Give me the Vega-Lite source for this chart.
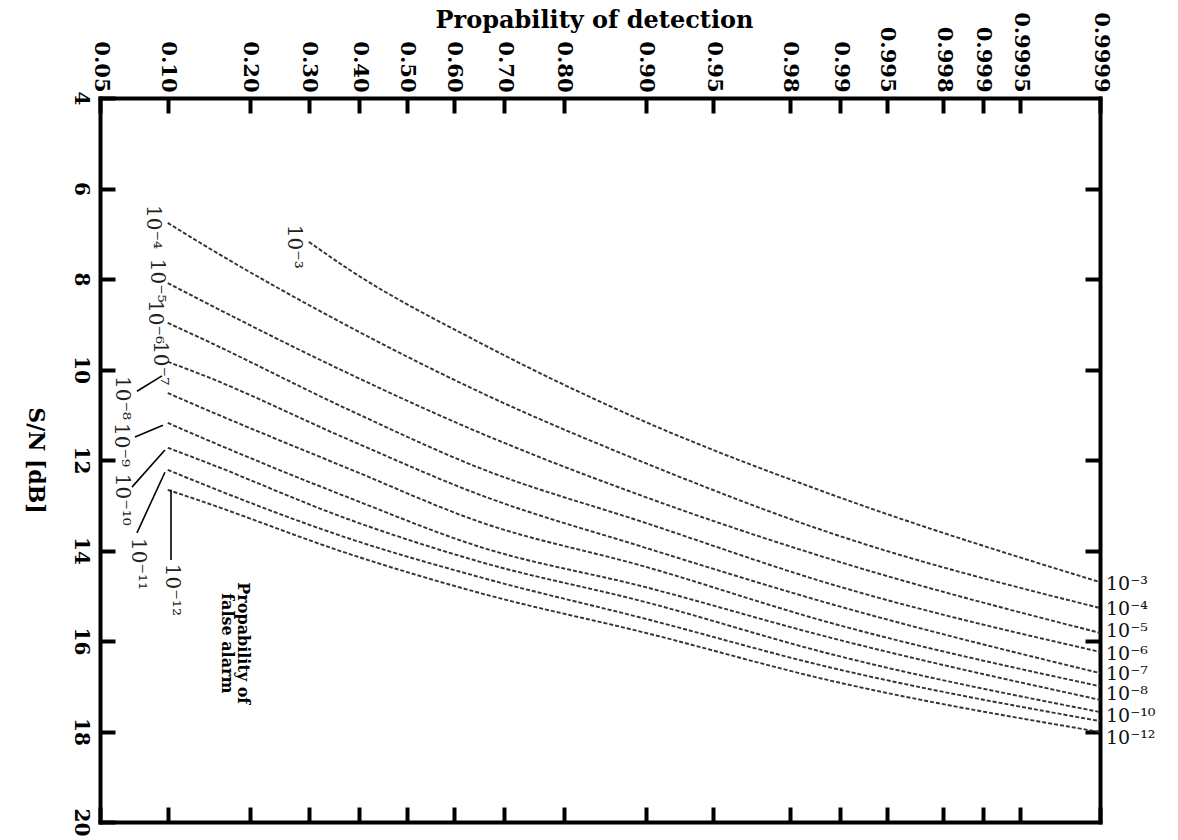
{
  "$schema": "https://vega.github.io/schema/vega-lite/v6.json",
  "width": 1000,
  "height": 724,
  "autosize": {"type": "none"},
  "padding": {"left": 100, "top": 98, "right": 78, "bottom": 18},
  "background": "white",
  "config": {
    "view": {"stroke": null},
    "axis": {
      "domainColor": "black", "domainWidth": 4, "domainCap": "square",
      "tickColor": "black", "tickWidth": 4, "tickSize": -15, "tickCap": "butt",
      "grid": false,
      "labelColor": "black", "labelFont": "DejaVu Serif", "labelFontWeight": "bold", "labelFontSize": 21,
      "labelOverlap": false, "labelFlush": false, "labelBound": false,
      "titleColor": "black", "titleFont": "DejaVu Serif", "titleFontWeight": "bold", "titleFontSize": 24
    }
  },
  "layer": [
    {
      "data": {"values": [
        {"pfa": "1e-3", "pd": 0.30, "snr": 7.18},
        {"pfa": "1e-3", "pd": 0.38, "snr": 7.80},
        {"pfa": "1e-3", "pd": 0.653, "snr": 9.41},
        {"pfa": "1e-3", "pd": 0.90, "snr": 11.16},
        {"pfa": "1e-3", "pd": 0.988, "snr": 12.73},
        {"pfa": "1e-3", "pd": 0.9999, "snr": 14.70},
        {"pfa": "1e-4", "pd": 0.10, "snr": 6.76},
        {"pfa": "1e-4", "pd": 0.134, "snr": 7.20},
        {"pfa": "1e-4", "pd": 0.38, "snr": 9.06},
        {"pfa": "1e-4", "pd": 0.653, "snr": 10.50},
        {"pfa": "1e-4", "pd": 0.90, "snr": 12.07},
        {"pfa": "1e-4", "pd": 0.988, "snr": 13.59},
        {"pfa": "1e-4", "pd": 0.9999, "snr": 15.27},
        {"pfa": "1e-5", "pd": 0.10, "snr": 8.09},
        {"pfa": "1e-5", "pd": 0.134, "snr": 8.46},
        {"pfa": "1e-5", "pd": 0.38, "snr": 10.10},
        {"pfa": "1e-5", "pd": 0.653, "snr": 11.40},
        {"pfa": "1e-5", "pd": 0.90, "snr": 12.82},
        {"pfa": "1e-5", "pd": 0.988, "snr": 14.17},
        {"pfa": "1e-5", "pd": 0.9999, "snr": 15.82},
        {"pfa": "1e-6", "pd": 0.10, "snr": 8.97},
        {"pfa": "1e-6", "pd": 0.134, "snr": 9.30},
        {"pfa": "1e-6", "pd": 0.38, "snr": 10.90},
        {"pfa": "1e-6", "pd": 0.653, "snr": 12.18},
        {"pfa": "1e-6", "pd": 0.90, "snr": 13.39},
        {"pfa": "1e-6", "pd": 0.988, "snr": 14.72},
        {"pfa": "1e-6", "pd": 0.9999, "snr": 16.24},
        {"pfa": "1e-7", "pd": 0.10, "snr": 9.83},
        {"pfa": "1e-7", "pd": 0.134, "snr": 10.10},
        {"pfa": "1e-7", "pd": 0.38, "snr": 11.56},
        {"pfa": "1e-7", "pd": 0.653, "snr": 12.77},
        {"pfa": "1e-7", "pd": 0.90, "snr": 13.94},
        {"pfa": "1e-7", "pd": 0.988, "snr": 15.16},
        {"pfa": "1e-7", "pd": 0.9999, "snr": 16.71},
        {"pfa": "1e-8", "pd": 0.10, "snr": 10.52},
        {"pfa": "1e-8", "pd": 0.134, "snr": 10.83},
        {"pfa": "1e-8", "pd": 0.38, "snr": 12.20},
        {"pfa": "1e-8", "pd": 0.653, "snr": 13.37},
        {"pfa": "1e-8", "pd": 0.90, "snr": 14.36},
        {"pfa": "1e-8", "pd": 0.988, "snr": 15.58},
        {"pfa": "1e-8", "pd": 0.9999, "snr": 17.00},
        {"pfa": "1e-9", "pd": 0.10, "snr": 11.18},
        {"pfa": "1e-9", "pd": 0.134, "snr": 11.49},
        {"pfa": "1e-9", "pd": 0.38, "snr": 12.84},
        {"pfa": "1e-9", "pd": 0.653, "snr": 13.92},
        {"pfa": "1e-9", "pd": 0.90, "snr": 14.81},
        {"pfa": "1e-9", "pd": 0.988, "snr": 15.91},
        {"pfa": "1e-9", "pd": 0.9999, "snr": 17.30},
        {"pfa": "1e-10", "pd": 0.10, "snr": 11.73},
        {"pfa": "1e-10", "pd": 0.134, "snr": 12.00},
        {"pfa": "1e-10", "pd": 0.38, "snr": 13.32},
        {"pfa": "1e-10", "pd": 0.653, "snr": 14.25},
        {"pfa": "1e-10", "pd": 0.90, "snr": 15.14},
        {"pfa": "1e-10", "pd": 0.988, "snr": 16.27},
        {"pfa": "1e-10", "pd": 0.9999, "snr": 17.57},
        {"pfa": "1e-11", "pd": 0.10, "snr": 12.22},
        {"pfa": "1e-11", "pd": 0.134, "snr": 12.51},
        {"pfa": "1e-11", "pd": 0.38, "snr": 13.74},
        {"pfa": "1e-11", "pd": 0.653, "snr": 14.59},
        {"pfa": "1e-11", "pd": 0.90, "snr": 15.51},
        {"pfa": "1e-11", "pd": 0.988, "snr": 16.57},
        {"pfa": "1e-11", "pd": 0.9999, "snr": 17.77},
        {"pfa": "1e-12", "pd": 0.10, "snr": 12.66},
        {"pfa": "1e-12", "pd": 0.134, "snr": 12.90},
        {"pfa": "1e-12", "pd": 0.38, "snr": 14.08},
        {"pfa": "1e-12", "pd": 0.653, "snr": 14.94},
        {"pfa": "1e-12", "pd": 0.90, "snr": 15.82},
        {"pfa": "1e-12", "pd": 0.988, "snr": 16.86},
        {"pfa": "1e-12", "pd": 0.9999, "snr": 18.01}
      ]},
      "transform": [{"calculate": "quantileNormal(datum.pd)", "as": "z"}],
      "mark": {"type": "line", "interpolate": "monotone", "stroke": "#333333", "strokeWidth": 1.9, "strokeDash": [4, 2]},
      "encoding": {
        "x": {
          "field": "z", "type": "quantitative",
          "scale": {"domain": [-1.644854, 3.719016], "nice": false, "zero": false},
          "axis": {
            "orient": "top",
            "values": [-1.644854, -1.281552, -0.841621, -0.524401, -0.253347, 0, 0.253347, 0.524401, 0.841621, 1.281552, 1.644854, 2.053749, 2.326348, 2.575829, 2.878162, 3.090232, 3.290527, 3.719016],
            "labelExpr": "format(cumulativeNormal(datum.value), cumulativeNormal(datum.value) < 0.9925 ? '.2f' : (cumulativeNormal(datum.value) < 0.99925 ? '.3f' : '.4f'))",
            "labelAngle": 90, "labelAlign": "right", "labelBaseline": "middle", "labelPadding": 21,
            "title": "Propability of detection",
            "titleX": 494, "titleY": -71, "titleAngle": 0, "titleAlign": "center", "titleBaseline": "alphabetic"
          }
        },
        "y": {
          "field": "snr", "type": "quantitative",
          "scale": {"domain": [4, 20], "nice": false, "zero": false, "reverse": true},
          "axis": {
            "orient": "left",
            "values": [4, 6, 8, 10, 12, 14, 16, 18, 20],
            "labelAngle": 90, "labelAlign": "center", "labelBaseline": "top", "labelPadding": 25, "labelFontSize": 20,
            "title": "S/N [dB]",
            "titleFontSize": 22,
            "titleAngle": 90, "titleX": -65, "titleY": 362, "titleAlign": "center", "titleBaseline": "middle"
          }
        },
        "detail": {"field": "pfa", "type": "nominal"}
      }
    },
    {
      "data": {"values": [
        {"pd": 0.0740, "snr": 10.48, "pd2": 0.0947, "snr2": 10.14},
        {"pd": 0.0725, "snr": 11.49, "pd2": 0.0956, "snr2": 11.23},
        {"pd": 0.0703, "snr": 12.60, "pd2": 0.0974, "snr2": 11.78},
        {"pd": 0.0740, "snr": 13.61, "pd2": 0.0974, "snr2": 12.27},
        {"pd": 0.1031, "snr": 14.21, "pd2": 0.1031, "snr2": 12.66}
      ]},
      "transform": [
        {"calculate": "quantileNormal(datum.pd)", "as": "z"},
        {"calculate": "quantileNormal(datum.pd2)", "as": "z2"}
      ],
      "mark": {"type": "rule", "stroke": "black", "strokeWidth": 1.6},
      "encoding": {
        "x": {
          "field": "z", "type": "quantitative",
          "scale": {"domain": [-1.644854, 3.719016], "nice": false, "zero": false},
          "axis": {
            "orient": "bottom",
            "values": [-1.644854, -1.281552, -0.841621, -0.524401, -0.253347, 0, 0.253347, 0.524401, 0.841621, 1.281552, 1.644854, 2.053749, 2.326348, 2.575829, 2.878162, 3.090232, 3.290527, 3.719016],
            "labels": false, "title": null
          }
        },
        "y": {
          "field": "snr", "type": "quantitative",
          "scale": {"domain": [4, 20], "nice": false, "zero": false, "reverse": true},
          "axis": {"orient": "right", "values": [6, 8, 10, 12, 14, 16, 18], "labels": false, "title": null}
        },
        "x2": {"field": "z2"},
        "y2": {"field": "snr2"}
      }
    },
    {
      "data": {"values": [
        {"lab": "10⁻³", "pd": 0.273, "snr": 7.29},
        {"lab": "10⁻⁴", "pd": 0.0868, "snr": 6.85},
        {"lab": "10⁻⁵", "pd": 0.0903, "snr": 8.04},
        {"lab": "10⁻⁶", "pd": 0.0885, "snr": 8.95},
        {"lab": "10⁻⁷", "pd": 0.0929, "snr": 9.86},
        {"lab": "10⁻⁸", "pd": 0.0634, "snr": 10.63},
        {"lab": "10⁻⁹", "pd": 0.0627, "snr": 11.67},
        {"lab": "10⁻¹⁰", "pd": 0.0634, "snr": 12.88},
        {"lab": "10⁻¹¹", "pd": 0.0748, "snr": 14.30},
        {"lab": "10⁻¹²", "pd": 0.104, "snr": 14.87}
      ]},
      "transform": [{"calculate": "quantileNormal(datum.pd)", "as": "z"}],
      "mark": {"type": "text", "angle": 90, "align": "center", "baseline": "middle", "font": "DejaVu Serif", "fontSize": 20, "color": "#222"},
      "encoding": {
        "x": {"field": "z", "type": "quantitative", "scale": {"domain": [-1.644854, 3.719016], "nice": false, "zero": false}, "axis": null},
        "y": {"field": "snr", "type": "quantitative", "scale": {"domain": [4, 20], "nice": false, "zero": false, "reverse": true}, "axis": null},
        "text": {"field": "lab"}
      }
    },
    {
      "data": {"values": [
        {"lab": "10⁻³", "pd": 0.9999, "snr": 14.87},
        {"lab": "10⁻⁴", "pd": 0.9999, "snr": 15.43},
        {"lab": "10⁻⁵", "pd": 0.9999, "snr": 15.91},
        {"lab": "10⁻⁶", "pd": 0.9999, "snr": 16.42},
        {"lab": "10⁻⁷", "pd": 0.9999, "snr": 16.86},
        {"lab": "10⁻⁸", "pd": 0.9999, "snr": 17.30},
        {"lab": "10⁻¹⁰", "pd": 0.9999, "snr": 17.80},
        {"lab": "10⁻¹²", "pd": 0.9999, "snr": 18.28}
      ]},
      "transform": [{"calculate": "quantileNormal(datum.pd)", "as": "z"}],
      "mark": {"type": "text", "align": "left", "baseline": "alphabetic", "dx": 6, "font": "DejaVu Serif", "fontSize": 19, "color": "#111"},
      "encoding": {
        "x": {"field": "z", "type": "quantitative", "scale": {"domain": [-1.644854, 3.719016], "nice": false, "zero": false}, "axis": null},
        "y": {"field": "snr", "type": "quantitative", "scale": {"domain": [4, 20], "nice": false, "zero": false, "reverse": true}, "axis": null},
        "text": {"field": "lab"}
      }
    },
    {
      "data": {"values": [
        {"lab": "Propability of\nfalse alarm", "pd": 0.190, "snr": 16.05}
      ]},
      "transform": [{"calculate": "quantileNormal(datum.pd)", "as": "z"}],
      "mark": {"type": "text", "angle": 90, "align": "center", "baseline": "middle", "lineBreak": "\n", "lineHeight": 16, "font": "DejaVu Serif", "fontWeight": "bold", "fontSize": 16, "color": "black"},
      "encoding": {
        "x": {"field": "z", "type": "quantitative", "scale": {"domain": [-1.644854, 3.719016], "nice": false, "zero": false}, "axis": null},
        "y": {"field": "snr", "type": "quantitative", "scale": {"domain": [4, 20], "nice": false, "zero": false, "reverse": true}, "axis": null},
        "text": {"field": "lab"}
      }
    }
  ],
  "resolve": {"axis": {"x": "independent", "y": "independent"}}
}
